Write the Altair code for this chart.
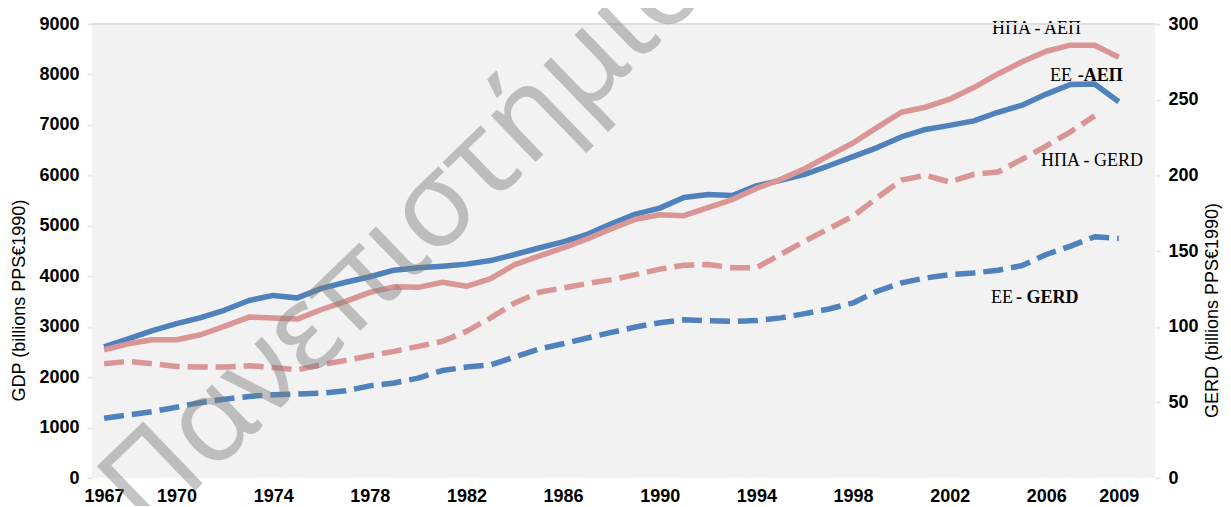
import altair as alt
import pandas as pd

years = list(range(1967, 2010))
eu_gdp = [2600, 2760, 2920, 3060, 3180, 3330, 3520, 3620, 3570, 3760, 3880, 3990, 4120,
          4170, 4200, 4240, 4310, 4430, 4560, 4680, 4830, 5040, 5230, 5350, 5560, 5620,
          5600, 5790, 5900, 6020, 6190, 6370, 6550, 6760, 6910, 6990, 7080, 7250, 7390,
          7610, 7800, 7810, 7460]
us_gdp = [2540, 2660, 2740, 2740, 2840, 3010, 3190, 3170, 3150, 3340, 3500, 3680, 3790,
          3780, 3880, 3800, 3950, 4230, 4400, 4560, 4740, 4940, 5130, 5220, 5200, 5360,
          5520, 5740, 5920, 6130, 6390, 6640, 6950, 7250, 7350, 7510, 7740, 8010, 8250,
          8460, 8580, 8580, 8340]
us_gerd_years = list(range(1967, 2009))
us_gerd = [75.5, 77, 75.5, 73.7, 73.3, 73.3, 74.2, 73, 71.5, 74.8, 77.7, 80.8, 83.7, 87,
           90.3, 96.9, 105.8, 115.7, 122.7, 125.6, 128.5, 131.1, 134.4, 138, 140.6, 141.1,
           138.9, 138.9, 147.7, 156.5, 164.7, 173, 185.2, 196.8, 200, 195.6, 200.7, 202.2,
           210.6, 219.4, 228.7, 239.3]
eu_gerd = [39.5, 41.7, 43.9, 46.8, 49.9, 52.1, 53.9, 55, 55.4, 56.1, 57.6, 60.9, 62.8, 66,
           71, 73.3, 74.8, 79.9, 85.2, 88.7, 92.5, 96.2, 99.8, 102.6, 104.6, 104, 103.5,
           104, 105.8, 108.6, 111.7, 115.7, 123.4, 128.9, 132.2, 134.4, 135.5, 137.3,
           140.4, 147.7, 153.2, 159.4, 158.3]
tick_years = [1967, 1970, 1974, 1978, 1982, 1986, 1990, 1994, 1998, 2002, 2006, 2009]
gdp_ticks = list(range(0, 9001, 1000))
gerd_ticks = list(range(0, 301, 50))

label_text = ["ΗΠΑ - ΑΕΠ", "ΕΕ", "-ΑΕΠ", "ΗΠΑ - GERD", "ΕΕ", "- GERD"]
label_year = [2003.75, 2006.15, 2007.3, 2005.78, 2003.71, 2004.75]
label_value = [8802, 7870, 7870, 6185, 3469, 3469]
label_bold = [False, False, True, False, False, True]

watermark = ["Πανεπιστήμιο"]

BLUE = "#4F81BD"
PINK = "#D99694"
W, H = 1063, 454

xscale = alt.Scale(domain=[1966.5, 2010.5], nice=False, zero=False)
xaxis = alt.Axis(values=tick_years, format="d", labelFont="Liberation Sans", labelFontSize=18,
                 labelFontWeight="bold", labelColor="black", ticks=False, domain=False,
                 grid=False, labelPadding=9, title=None, labelFlush=False,
                 labelOverlap=False)
X = alt.X("year:Q", scale=xscale, axis=xaxis)

gdp_scale = alt.Scale(domain=[0, 9000], nice=False)
gdp_axis = alt.Axis(values=gdp_ticks, format="d", labelFont="Liberation Sans", labelFontSize=18,
                    labelFontWeight="bold", labelColor="black", domain=False, grid=False,
                    ticks=True, tickColor="#E6E6E6", tickSize=5, tickWidth=2, labelPadding=8,
                    title="GDP (billions PPS€1990)", titleFont="Liberation Sans",
                    titleFontSize=18, titleFontWeight="normal", titleColor="black",
                    titleAngle=270, titleAlign="center", titleBaseline="middle",
                    titleX=-73, titleY=276)
Ygdp = alt.Y("value:Q", scale=gdp_scale, axis=gdp_axis)

gerd_scale = alt.Scale(domain=[0, 300], nice=False)
gerd_axis = alt.Axis(orient="right", values=gerd_ticks, format="d", labelFont="Liberation Sans",
                     labelFontSize=18, labelFontWeight="bold", labelColor="black", domain=False,
                     grid=False, ticks=True, tickColor="#E6E6E6", tickSize=5, tickWidth=2,
                     labelPadding=8, title="GERD (billions PPS€1990)",
                     titleFont="Liberation Sans", titleFontSize=18, titleFontWeight="normal",
                     titleColor="black", titleAngle=270, titleAlign="center",
                     titleBaseline="middle", titleX=57, titleY=286)
Ygerd = alt.Y("value:Q", scale=gerd_scale, axis=gerd_axis)

def series(xs, vs):
    return pd.DataFrame({"year": xs, "value": vs})

eu_gdp_line = alt.Chart(series(years, eu_gdp)).mark_line(
    color=BLUE, strokeWidth=5.5, strokeCap="butt", strokeJoin="round").encode(x=X, y=Ygdp)
us_gdp_line = alt.Chart(series(years, us_gdp)).mark_line(
    color=PINK, strokeWidth=5.5, strokeCap="butt", strokeJoin="round").encode(x=X, y=Ygdp)

labels = pd.DataFrame({"year": label_year, "value": label_value, "t": label_text,
                       "bold": label_bold})
text_normal = alt.Chart(labels).transform_filter("!datum.bold").mark_text(
    font="Liberation Serif", fontSize=18, align="left", baseline="alphabetic",
    color="black").encode(x=X, y=Ygdp, text="t:N")
text_bold = alt.Chart(labels).transform_filter("datum.bold").mark_text(
    font="Liberation Serif", fontSize=18, fontWeight="bold", align="left",
    baseline="alphabetic", color="black").encode(x=X, y=Ygdp, text="t:N")

gdp_layer = alt.layer(eu_gdp_line, us_gdp_line, text_normal, text_bold)

eu_gerd_line = alt.Chart(series(years, eu_gerd)).mark_line(
    color=BLUE, strokeWidth=5.5, strokeDash=[20, 8], strokeCap="butt",
    strokeJoin="round").encode(x=X, y=Ygerd)
us_gerd_line = alt.Chart(series(us_gerd_years, us_gerd)).mark_line(
    color=PINK, strokeWidth=5.5, strokeDash=[20, 8], strokeCap="butt",
    strokeJoin="round").encode(x=X, y=Ygerd)
gerd_layer = alt.layer(eu_gerd_line, us_gerd_line)

top_rule = alt.Chart(pd.DataFrame({"a": [0]})).mark_rule(
    color="#E0E0E0", strokeWidth=2).encode(x=alt.value(0), x2=alt.value(W), y=alt.value(0))

wm = alt.Chart(pd.DataFrame({"t": watermark})).mark_text(
    font="Noto Sans", fontSize=120, angle=316, align="left", baseline="alphabetic",
    color="#7F7F7F", opacity=0.45).encode(text="t:N", x=alt.value(56), y=alt.value(512))

chart = alt.layer(gdp_layer, gerd_layer, top_rule, wm).resolve_scale(
    y="independent").properties(
    width=W, height=H, autosize=alt.AutoSizeParams(type="none"),
    padding={"left": 84, "top": 16, "right": 68, "bottom": 28}
).configure_view(fill="#F2F2F2", strokeWidth=0)

chart.save("out.html", embed_options={"renderer": "svg", "actions": False})
